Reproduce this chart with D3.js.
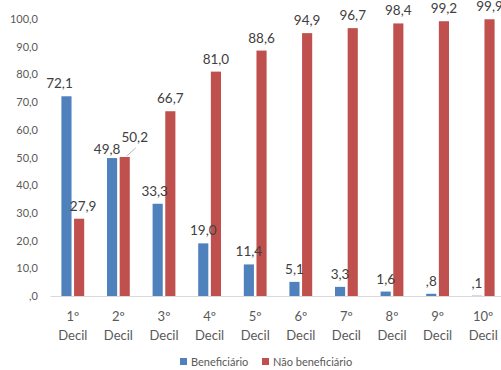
<!DOCTYPE html>
<html>
<head>
<meta charset="utf-8">
<script src="https://cdn.jsdelivr.net/npm/d3@7"></script>
<style>
  body { margin: 0; background: #fff; }
  text { font-family: Lato, "Open Sans", sans-serif; }
  .eje text { fill: #595959; font-size: 11px; }
  .cat text { fill: #595959; font-size: 13px; }
  .etiqueta { fill: #404040; font-size: 13.5px; }
  .leyenda text { fill: #595959; font-size: 11px; }
</style>
</head>
<body>
<div id="graf"></div>
<script>
// I. Datos
deciles = ['1º Decil', '2º Decil', '3º Decil', '4º Decil', '5º Decil',
           '6º Decil', '7º Decil', '8º Decil', '9º Decil', '10º Decil']
beneficiario = [72.1, 49.8, 33.3, 19.0, 11.4, 5.1, 3.3, 1.6, 0.8, 0.1]
naoBeneficiario = [27.9, 50.2, 66.7, 81.0, 88.6, 94.9, 96.7, 98.4, 99.2, 99.9]
series = ['Beneficiário', 'Não beneficiário']
yTicks = [0, 10, 20, 30, 40, 50, 60, 70, 80, 90, 100]

// II. Configuración
ancho_total = 501
alto_total = 370
margins = { top: 19, left: 50, right: -5, bottom: 74 }
ancho = ancho_total - margins.left - margins.right
alto = alto_total - margins.top - margins.bottom

colores = ['#4f81bd', '#c0504d']

// ajustes manuales de etiquetas (como en la hoja original)
ajuste = {
  '0-0': [-7, 0], '0-1': [4, 0],
  '1-0': [-5, 4], '1-1': [10, -7],
  '2-0': [-3, 0]
}

fmt = v => {
  s = v.toFixed(1).replace('.', ',')
  return s.startsWith('0,') ? s.slice(1) : s
}

svg = d3.select('#graf').append('svg')
        .attr('width', ancho_total)
        .attr('height', alto_total)

g = svg.append('g')
       .attr('transform', `translate(${ margins.left }, ${ margins.top })`)

y = d3.scaleLinear().domain([0, 100]).range([alto, 0])

x0 = d3.scaleBand()
       .domain(deciles)
       .range([0, ancho])
       .paddingInner(0.5)
       .paddingOuter(0.25)

x1 = d3.scaleBand()
       .domain(series)
       .range([0, x0.bandwidth()])
       .paddingInner(0.2)

// III. Ejes
yAxisGroup = g.append('g').attr('class', 'eje')
yAxisGroup.call(d3.axisLeft(y).tickValues(yTicks).tickSize(0).tickPadding(12).tickFormat(fmt))
yAxisGroup.select('.domain').remove()

xAxisGroup = g.append('g')
              .attr('class', 'cat')
              .attr('transform', `translate(0, ${ alto })`)
xAxisGroup.call(d3.axisBottom(x0).tickSize(0).tickFormat(''))
xAxisGroup.select('.domain').attr('stroke', '#d9d9d9')

xAxisGroup.selectAll('.tick text').remove()
xAxisGroup.selectAll('.tick').each(function(d) {
  partes = d.split(' ')
  t = d3.select(this).append('text')
        .attr('text-anchor', 'middle')
        .attr('fill', '#595959')
  partes.forEach((p, i) => {
    t.append('tspan').attr('x', 0).attr('y', 25 + i * 18.5).text(p)
  })
})

// IV. Barras
datos = deciles.map((d, i) => ({
  decil: d,
  valores: [beneficiario[i], naoBeneficiario[i]]
}))

grupos = g.selectAll('.grupo')
          .data(datos)
          .enter().append('g')
          .attr('class', 'grupo')
          .attr('transform', d => `translate(${ x0(d.decil) }, 0)`)

grupos.selectAll('rect')
      .data(d => d.valores.map((v, j) => ({ serie: series[j], v: v, j: j })))
      .enter().append('rect')
      .attr('x', d => x1(d.serie))
      .attr('y', d => y(d.v))
      .attr('width', x1.bandwidth())
      .attr('height', d => alto - y(d.v))
      .attr('fill', d => colores[d.j])

// V. Etiquetas de datos
grupos.each(function(d, i) {
  grp = d3.select(this)
  d.valores.forEach((v, j) => {
    a = ajuste[`${i}-${j}`] || [0, 0]
    cx = x1(series[j]) + x1.bandwidth() / 2
    grp.append('text')
       .attr('class', 'etiqueta')
       .attr('x', cx + a[0])
       .attr('y', y(v) - 8 + a[1])
       .attr('text-anchor', 'middle')
       .text(fmt(v))
    if (i == 1 && j == 1) {
      grp.append('line')
         .attr('x1', cx + 2).attr('y1', y(v) - 1)
         .attr('x2', cx + 11).attr('y2', y(v) - 9)
         .attr('stroke', '#a6a6a6')
         .attr('stroke-width', 0.8)
    }
  })
})

// VI. Leyenda
leyenda = svg.append('g').attr('class', 'leyenda')
posX = [180, 262]
series.forEach((s, i) => {
  leyenda.append('rect')
         .attr('x', posX[i]).attr('y', 358)
         .attr('width', 7).attr('height', 7)
         .attr('fill', colores[i])
  leyenda.append('text')
         .attr('x', posX[i] + 11).attr('y', 365.5)
         .text(s)
})
</script>
</body>
</html>
